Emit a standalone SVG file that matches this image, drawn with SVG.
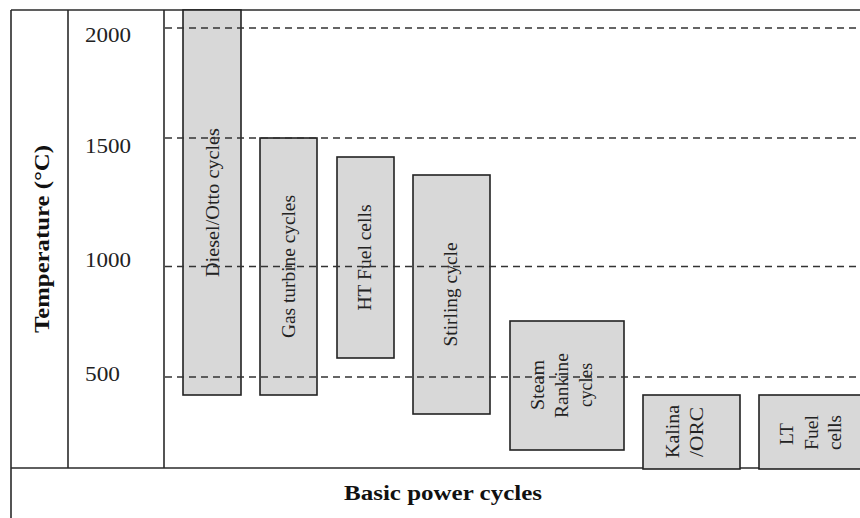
<svg xmlns="http://www.w3.org/2000/svg" width="860" height="518" viewBox="0 0 860 518">
<style>
.frame{stroke:#2a2a2a;stroke-width:1.6;fill:none}
.box{fill:#d8d8d8;stroke:#222;stroke-width:1.6}
.grid{stroke:#333;stroke-width:1.6;stroke-dasharray:7 5;fill:none}
.lbl{font-family:"Liberation Serif","Times New Roman",serif;font-size:18px;fill:#222;text-anchor:middle}
.tick{font-family:"Liberation Serif","Times New Roman",serif;font-size:22px;fill:#222}
.title{font-family:"Liberation Serif","Times New Roman",serif;font-size:20px;font-weight:bold;fill:#111;text-anchor:middle}
</style>
<rect width="860" height="518" fill="#fff"/>
<g id="frame">
<line class="frame" x1="11" y1="10" x2="860" y2="10"/>
<line class="frame" x1="11" y1="10" x2="11" y2="518"/>
<line class="frame" x1="68" y1="10" x2="68" y2="468"/>
<line class="frame" x1="164" y1="10" x2="164" y2="468"/>
<line class="frame" x1="11" y1="468" x2="860" y2="468"/>
</g>
<g id="axis-labels">
<text class="title" transform="translate(49,239) rotate(-90)" textLength="188" lengthAdjust="spacingAndGlyphs">Temperature (°C)</text>
<text class="tick" x="85" y="42" textLength="46" lengthAdjust="spacingAndGlyphs">2000</text>
<text class="tick" x="85" y="153" textLength="46" lengthAdjust="spacingAndGlyphs">1500</text>
<text class="tick" x="85" y="267" textLength="46" lengthAdjust="spacingAndGlyphs">1000</text>
<text class="tick" x="85" y="381" textLength="35" lengthAdjust="spacingAndGlyphs">500</text>
<text class="title" x="443" y="500" textLength="198" lengthAdjust="spacingAndGlyphs">Basic power cycles</text>
</g>
<g id="diesel">
<rect class="box" x="183" y="10" width="58" height="385"/>
<text class="lbl" transform="translate(219,202.5) rotate(-90)" textLength="149" lengthAdjust="spacingAndGlyphs">Diesel/Otto cycles</text>
</g>
<g id="gas-turbine">
<rect class="box" x="260" y="138" width="57" height="257"/>
<text class="lbl" transform="translate(295,266.5) rotate(-90)" textLength="143" lengthAdjust="spacingAndGlyphs">Gas turbine cycles</text>
</g>
<g id="ht-fuel">
<rect class="box" x="337" y="157" width="57" height="201"/>
<text class="lbl" transform="translate(371,257.5) rotate(-90)" textLength="106" lengthAdjust="spacingAndGlyphs">HT Fuel cells</text>
</g>
<g id="stirling">
<rect class="box" x="413" y="175" width="77" height="239"/>
<text class="lbl" transform="translate(457,294.5) rotate(-90)" textLength="104" lengthAdjust="spacingAndGlyphs">Stirling cycle</text>
</g>
<g id="steam">
<rect class="box" x="510" y="321" width="114" height="129"/>
<text class="lbl" transform="translate(544,385) rotate(-90)" textLength="50" lengthAdjust="spacingAndGlyphs">Steam</text>
<text class="lbl" transform="translate(568,385.5) rotate(-90)" textLength="65" lengthAdjust="spacingAndGlyphs">Rankine</text>
<text class="lbl" transform="translate(592,385) rotate(-90)" textLength="44" lengthAdjust="spacingAndGlyphs">cycles</text>
</g>
<g id="kalina">
<rect class="box" x="643" y="395" width="97" height="74"/>
<text class="lbl" transform="translate(679,431.5) rotate(-90)" textLength="53" lengthAdjust="spacingAndGlyphs">Kalina</text>
<text class="lbl" transform="translate(703,432) rotate(-90)" textLength="50" lengthAdjust="spacingAndGlyphs">/ORC</text>
</g>
<g id="lt-fuel">
<rect class="box" x="759" y="395" width="110" height="74"/>
<text class="lbl" transform="translate(793,434) rotate(-90)" textLength="22" lengthAdjust="spacingAndGlyphs">LT</text>
<text class="lbl" transform="translate(818,432.5) rotate(-90)" textLength="35" lengthAdjust="spacingAndGlyphs">Fuel</text>
<text class="lbl" transform="translate(841,432.5) rotate(-90)" textLength="35" lengthAdjust="spacingAndGlyphs">cells</text>
</g>
<g id="connectors">
<line class="grid" x1="165" y1="28" x2="860" y2="28"/>
<line class="grid" x1="165" y1="138" x2="860" y2="138"/>
<line class="grid" x1="165" y1="266.5" x2="860" y2="266.5"/>
<line class="grid" x1="165" y1="377" x2="860" y2="377"/>
</g>
</svg>
